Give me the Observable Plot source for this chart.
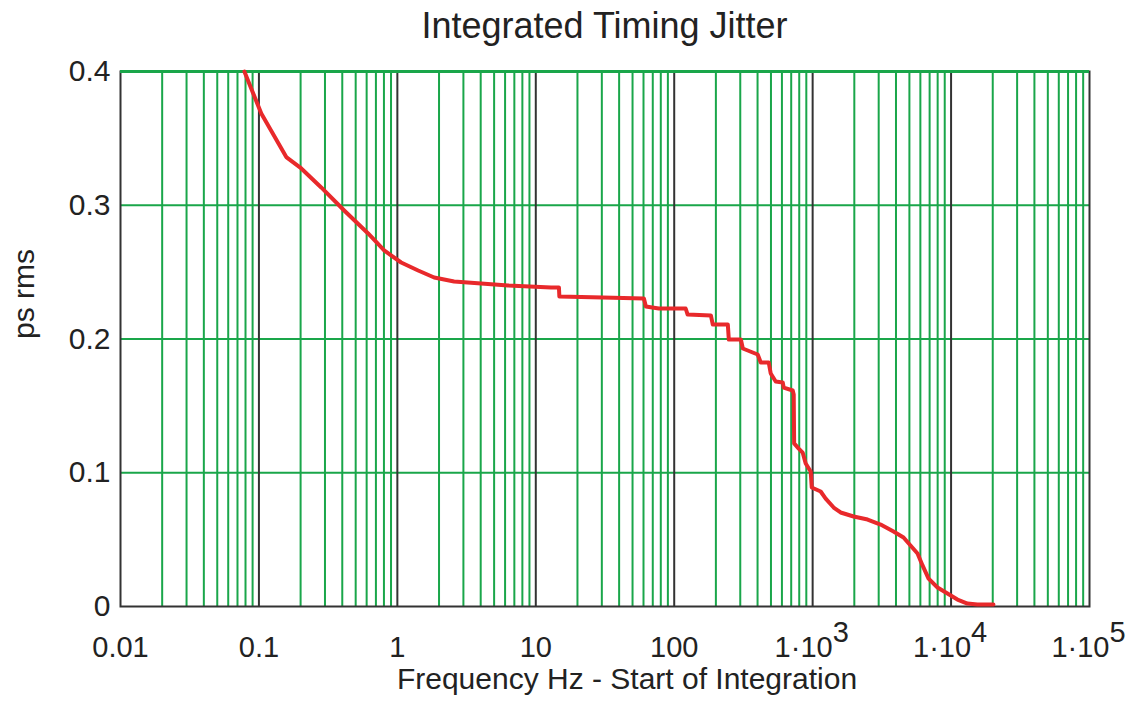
<!DOCTYPE html>
<html><head><meta charset="utf-8">
<script src="https://cdn.jsdelivr.net/npm/d3@7"></script>
<script src="https://cdn.jsdelivr.net/npm/@observablehq/plot@0.6"></script>
<style>
body{margin:0;background:#fff;font-family:"Liberation Sans",Arial,sans-serif;}
#title{width:1129px;height:52px;box-sizing:border-box;padding-left:80px;text-align:center;font-size:36px;line-height:52px;color:#222;white-space:nowrap;}
#chart svg{display:block;}
</style></head><body>
<div id="title">Integrated Timing Jitter</div>
<div id="chart"></div>
<script>
// Start-of-integration frequency (Hz) and integrated jitter (ps rms)
const freq = [0.0785,0.104,0.1576,0.2023,0.2818,0.413,0.615,0.803,1.065,1.413,1.845,2.57,4.03,6.30,12.9,14.7,14.8,30.5,60.4,62.4,77.4,121,125,184,190,244,248,303,313,369,401,422,482,498,541,608,618,718,730,735,793,847,891,968,985,1143,1242,1419,1592,1977,2495,3097,3840,4536,5094,5725,6222,6876,7980,9420,11120,13130,15500,20230];
const jitter = [0.400,0.3686,0.336,0.3275,0.3133,0.2961,0.2789,0.2662,0.2572,0.2512,0.246,0.243,0.2415,0.240,0.2385,0.2385,0.2318,0.231,0.2303,0.2243,0.2228,0.2228,0.2183,0.2176,0.2108,0.2108,0.1996,0.1996,0.1929,0.1899,0.1884,0.1824,0.1824,0.1742,0.1682,0.1675,0.1637,0.1615,0.1585,0.1219,0.1181,0.1151,0.1069,0.1009,0.089,0.086,0.0807,0.074,0.0703,0.0673,0.065,0.0613,0.0561,0.0516,0.0456,0.0396,0.0307,0.0209,0.0142,0.0097,0.0052,0.0022,0.0015,0.0015];

const yTicks = [0, 0.1, 0.2, 0.3, 0.4];
const yTickLabels = ["0", "0.1", "0.2", "0.3", "0.4"];
const plainTicks = [0.01, 0.1, 1, 10, 100];
const plainLabels = ["0.01", "0.1", "1", "10", "100"];
const powTicks = [1e3, 1e4, 1e5];
const powBases = ["1·10", "1·10", "1·10"];
const powExponents = ["3", "4", "5"];
const decades = [0.01, 0.1, 1, 10, 100, 1000, 10000, 100000];
const minorMultipliers = [2, 3, 4, 5, 6, 7, 8, 9];

const xLabel = "Frequency Hz - Start of Integration";
const yLabel = "ps rms";

const data = freq.map((f, i) => ({f, v: jitter[i]}));
const minor = decades.slice(0, -1).flatMap(d => minorMultipliers.map(m => d * m));
const majors = decades.slice(1, -1);

const green = "#1aa64a", dark = "#333333", red = "#e8292b", ink = "#222222";
const font = '"Liberation Sans", Arial, sans-serif';

const chart = Plot.plot({
  width: 1129, height: 656,
  marginLeft: 120, marginRight: 40, marginTop: 19, marginBottom: 102,
  style: {fontFamily: font, fontSize: "29px", color: ink, background: "#fff"},
  x: {type: "log", domain: [0.01, 1e5], axis: null},
  y: {domain: [0, 0.4], axis: null},
  marks: [
    Plot.ruleX(minor, {stroke: green, strokeWidth: 2}),
    Plot.ruleY(yTicks.slice(1, -1), {stroke: green, strokeWidth: 2}),
    Plot.ruleX(majors, {stroke: dark, strokeWidth: 2}),
    Plot.frame({stroke: dark, strokeWidth: 2}),
    Plot.ruleY([yTicks[yTicks.length - 1]], {stroke: green, strokeWidth: 3}),
    Plot.line(data, {x: "f", y: "v", stroke: red, strokeWidth: 4, strokeLinejoin: "round", strokeLinecap: "round"}),
    Plot.text(yTicks, {y: yTicks, text: yTickLabels, frameAnchor: "left", textAnchor: "end", dx: -10, fontSize: 30, fill: ink}),
    Plot.text(plainTicks, {x: plainTicks, text: plainLabels, frameAnchor: "bottom", lineAnchor: "bottom", dy: 50, fontSize: 29, fill: ink}),
    Plot.text(powTicks, {x: powTicks, text: powBases, frameAnchor: "bottom", lineAnchor: "bottom", textAnchor: "end", dx: 20, dy: 50, fontSize: 29, fill: ink}),
    Plot.text(powTicks, {x: powTicks, text: powExponents, frameAnchor: "bottom", lineAnchor: "bottom", textAnchor: "start", dx: 20, dy: 35, fontSize: 29, fill: ink}),
    Plot.text([xLabel], {frameAnchor: "bottom", lineAnchor: "bottom", dy: 82, dx: 22, fontSize: 30, fill: ink}),
    Plot.text([yLabel], {frameAnchor: "left", lineAnchor: "bottom", rotate: -90, dx: -87, fontSize: 30, fill: ink})
  ]
});
document.getElementById("chart").appendChild(chart);
</script>
</body></html>
